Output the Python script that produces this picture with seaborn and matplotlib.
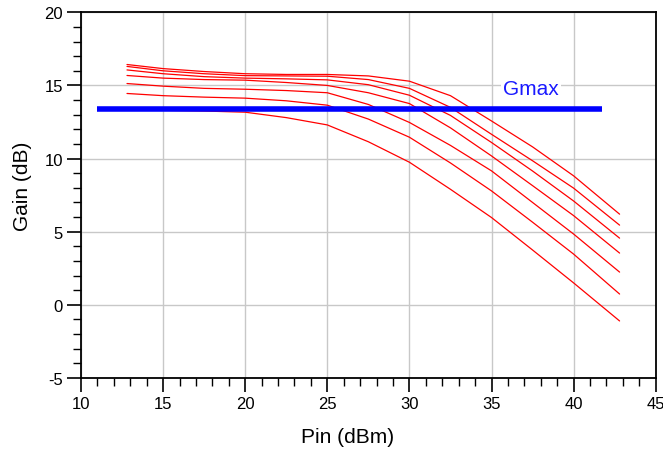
import numpy as np
import pandas as pd
import matplotlib
matplotlib.use("Agg")
import matplotlib.pyplot as plt
import seaborn as sns
from matplotlib.ticker import MultipleLocator

# Input power (dBm) sample points
pin = [12.8, 15, 17.5, 20, 22.5, 25, 27.5, 30, 32.5, 35, 37.5, 40, 42.8]

# Gain curves (dB), top to bottom
gain_1 = [16.43, 16.15, 15.95, 15.80, 15.75, 15.75, 15.65, 15.29, 14.30, 12.57, 10.80, 8.82, 6.20]
gain_2 = [16.30, 16.00, 15.80, 15.67, 15.65, 15.63, 15.40, 14.80, 13.50, 11.66, 9.85, 7.98, 5.45]
gain_3 = [16.06, 15.80, 15.60, 15.50, 15.45, 15.38, 15.05, 14.33, 12.95, 11.10, 9.15, 7.10, 4.56]
gain_4 = [15.68, 15.50, 15.40, 15.36, 15.20, 15.00, 14.50, 13.76, 12.10, 10.18, 8.15, 6.10, 3.54]
gain_5 = [15.13, 14.95, 14.80, 14.74, 14.65, 14.50, 13.70, 12.47, 10.90, 9.16, 7.00, 4.84, 2.24]
gain_6 = [14.45, 14.30, 14.20, 14.13, 13.95, 13.65, 12.70, 11.46, 9.70, 7.79, 5.65, 3.47, 0.74]
gain_7 = [13.40, 13.30, 13.25, 13.17, 12.80, 12.30, 11.15, 9.75, 7.90, 5.97, 3.75, 1.50, -1.10]

curves = [gain_1, gain_2, gain_3, gain_4, gain_5, gain_6, gain_7]

# Gmax reference line
gmax_x = [11.0, 41.7]
gmax_y = [13.4, 13.4]
gmax_label = "Gmax"

x_label = "Pin (dBm)"
y_label = "Gain (dB)"

sns.set_theme(style="white")
plt.rcParams["font.family"] = ["Liberation Sans", "DejaVu Sans"]
plt.rcParams["axes.unicode_minus"] = False

fig = plt.figure(figsize=(6.63, 4.52), dpi=100)
ax = fig.add_axes([0.1222, 0.1615, 0.8668, 0.8091])

rows = []
for i, g in enumerate(curves):
    for xv, yv in zip(pin, g):
        rows.append({"Pin": xv, "Gain": yv, "curve": f"c{i}"})
df = pd.DataFrame(rows)

sns.lineplot(data=df, x="Pin", y="Gain", hue="curve", palette=["#ff0000"] * len(curves),
             linewidth=0.9, legend=False, ax=ax, estimator=None, sort=False)

sns.lineplot(x=gmax_x, y=gmax_y, color="#0000ff", linewidth=4.0, ax=ax,
             solid_capstyle="butt", estimator=None)

ax.text(37.4, 14.76, gmax_label, color="#1a1aff", fontsize=15, ha="center", va="center",
        bbox=dict(facecolor="white", edgecolor="none", pad=1.5), zorder=5)

ax.set_xlim(10, 45)
ax.set_ylim(-5, 20)
ax.xaxis.set_major_locator(MultipleLocator(5))
ax.xaxis.set_minor_locator(MultipleLocator(1))
ax.yaxis.set_major_locator(MultipleLocator(5))
ax.yaxis.set_minor_locator(MultipleLocator(1))

ax.set_axisbelow(True)
ax.grid(which="major", color="#c8c8c8", linewidth=1.0)
ax.grid(which="minor", visible=False)

for s in ax.spines.values():
    s.set_visible(True)
    s.set_color("black")
    s.set_linewidth(1.3)

ax.tick_params(axis="both", which="major", direction="out", length=10, width=1.2,
               color="black", labelsize=12, labelcolor="black", pad=3,
               bottom=True, left=True, top=False, right=False)
ax.tick_params(axis="both", which="minor", direction="out", length=6, width=1.0,
               color="black", bottom=True, left=True, top=False, right=False)

ax.set_xlabel(x_label, fontsize=15, color="black")
ax.set_ylabel(y_label, fontsize=15, color="black", va="center")
ax.xaxis.set_label_coords(0.463, -0.159)
ax.yaxis.set_label_coords(-0.101, 0.526)
ax.xaxis.label.set_va("center")

fig.savefig("out.png", dpi=100)
